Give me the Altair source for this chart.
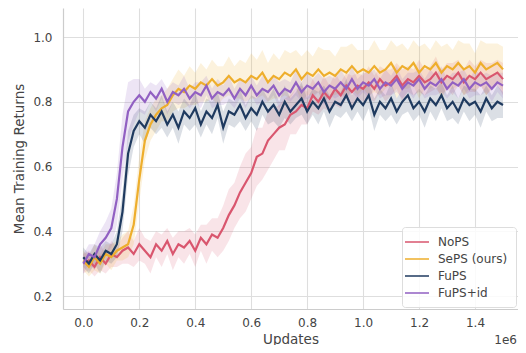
import altair as alt
import pandas as pd

SERIES = ["NoPS", "SePS (ours)", "FuPS", "FuPS+id"]
COLORS = ["#d9566e", "#eeae2c", "#1f3a5f", "#9160c2"]
STEP = 20000  # updates between logged points

NOPS = [0.30, 0.31, 0.29, 0.32, 0.30, 0.33, 0.32, 0.34, 0.35, 0.33,
        0.36, 0.34, 0.32, 0.36, 0.34, 0.37, 0.33, 0.36, 0.35, 0.37,
        0.34, 0.38, 0.36, 0.39, 0.38, 0.41, 0.45, 0.48, 0.52, 0.55,
        0.58, 0.63, 0.64, 0.68, 0.70, 0.72, 0.73, 0.76, 0.77, 0.79,
        0.78, 0.82, 0.80, 0.83, 0.81, 0.84, 0.82, 0.85, 0.83, 0.85,
        0.84, 0.86, 0.84, 0.87, 0.85, 0.86, 0.88, 0.85, 0.87, 0.86,
        0.88, 0.86, 0.87, 0.89, 0.86, 0.88, 0.87, 0.89, 0.86, 0.88,
        0.87, 0.89, 0.87, 0.88, 0.89, 0.87]
SEPS = [0.31, 0.29, 0.32, 0.30, 0.33, 0.32, 0.34, 0.35, 0.36, 0.42,
        0.56, 0.68, 0.73, 0.76, 0.78, 0.79, 0.82, 0.84, 0.83, 0.85,
        0.84, 0.86, 0.85, 0.87, 0.85, 0.86, 0.88, 0.86, 0.87, 0.86,
        0.88, 0.87, 0.89, 0.86, 0.88, 0.87, 0.89, 0.88, 0.90, 0.87,
        0.89, 0.88, 0.90, 0.88, 0.89, 0.88, 0.90, 0.89, 0.91, 0.89,
        0.90, 0.89, 0.91, 0.89, 0.90, 0.92, 0.89, 0.91, 0.90, 0.92,
        0.89, 0.91, 0.90, 0.92, 0.89, 0.91, 0.90, 0.92, 0.90, 0.91,
        0.89, 0.92, 0.90, 0.91, 0.92, 0.90]
FUPS = [0.32, 0.30, 0.33, 0.31, 0.34, 0.33, 0.36, 0.46, 0.64, 0.71,
        0.74, 0.72, 0.76, 0.74, 0.77, 0.73, 0.76, 0.72, 0.77, 0.75,
        0.78, 0.73, 0.77, 0.75, 0.79, 0.72, 0.77, 0.76, 0.79, 0.75,
        0.78, 0.76, 0.80, 0.77, 0.79, 0.76, 0.80, 0.77, 0.79, 0.81,
        0.77, 0.80, 0.78, 0.81, 0.77, 0.80, 0.79, 0.82, 0.78, 0.81,
        0.79, 0.82, 0.76, 0.80, 0.78, 0.81, 0.77, 0.80, 0.82, 0.78,
        0.80, 0.77, 0.81, 0.79, 0.82, 0.78, 0.80, 0.77, 0.81, 0.79,
        0.80, 0.77, 0.81, 0.78, 0.80, 0.79]
FUPSID = [0.30, 0.33, 0.32, 0.36, 0.38, 0.41, 0.50, 0.66, 0.77, 0.80,
          0.82, 0.80, 0.83, 0.81, 0.84, 0.80, 0.83, 0.82, 0.84, 0.81,
          0.83, 0.82, 0.85, 0.81, 0.83, 0.82, 0.84, 0.81, 0.84, 0.82,
          0.85, 0.82, 0.84, 0.83, 0.85, 0.82, 0.84, 0.83, 0.86, 0.83,
          0.85, 0.84, 0.86, 0.83, 0.85, 0.84, 0.86, 0.84, 0.87, 0.84,
          0.86, 0.85, 0.87, 0.84, 0.86, 0.85, 0.87, 0.84, 0.86, 0.85,
          0.87, 0.84, 0.86, 0.85, 0.87, 0.84, 0.86, 0.85, 0.87, 0.84,
          0.86, 0.85, 0.86, 0.84, 0.86, 0.85]

# half-widths of the shaded bands
NOPS_HW = [0.03, 0.03, 0.03, 0.04, 0.03, 0.04, 0.03, 0.04, 0.05, 0.04,
           0.05, 0.04, 0.05, 0.04, 0.05, 0.04, 0.05, 0.04, 0.05, 0.04,
           0.05, 0.04, 0.06, 0.05, 0.06, 0.07, 0.08, 0.07, 0.08, 0.09,
           0.08, 0.09, 0.08, 0.09, 0.08, 0.07, 0.08, 0.06, 0.07, 0.06,
           0.05, 0.05, 0.04, 0.05, 0.04, 0.05, 0.04, 0.04, 0.05, 0.04,
           0.04, 0.05, 0.04, 0.04, 0.05, 0.04, 0.04, 0.05, 0.04, 0.04,
           0.05, 0.04, 0.04, 0.05, 0.04, 0.04, 0.05, 0.04, 0.04, 0.05,
           0.04, 0.04, 0.05, 0.04, 0.04, 0.05]
SEPS_HW = [0.03, 0.03, 0.04, 0.03, 0.03, 0.04, 0.03, 0.04, 0.04, 0.06,
           0.07, 0.06, 0.05, 0.05, 0.04, 0.05, 0.05, 0.06, 0.05, 0.06,
           0.05, 0.06, 0.05, 0.06, 0.06, 0.05, 0.06, 0.05, 0.06, 0.06,
           0.07, 0.06, 0.07, 0.06, 0.07, 0.06, 0.07, 0.07, 0.06, 0.07,
           0.07, 0.06, 0.07, 0.08, 0.07, 0.06, 0.07, 0.08, 0.07, 0.07,
           0.06, 0.07, 0.08, 0.07, 0.06, 0.07, 0.08, 0.07, 0.06, 0.07,
           0.08, 0.07, 0.06, 0.07, 0.08, 0.07, 0.06, 0.07, 0.08, 0.07,
           0.06, 0.07, 0.08, 0.07, 0.06, 0.07]
FUPS_HW = [0.03, 0.03, 0.03, 0.04, 0.03, 0.03, 0.04, 0.06, 0.07, 0.05,
           0.04, 0.05, 0.04, 0.04, 0.05, 0.04, 0.04, 0.05, 0.04, 0.04,
           0.05, 0.04, 0.04, 0.05, 0.04, 0.05, 0.04, 0.04, 0.05, 0.04,
           0.04, 0.05, 0.04, 0.04, 0.05, 0.04, 0.05, 0.04, 0.04, 0.05,
           0.04, 0.04, 0.05, 0.04, 0.05, 0.04, 0.04, 0.05, 0.04, 0.04,
           0.05, 0.04, 0.05, 0.04, 0.04, 0.05, 0.04, 0.04, 0.05, 0.04,
           0.04, 0.05, 0.04, 0.05, 0.04, 0.04, 0.05, 0.04, 0.04, 0.05,
           0.04, 0.05, 0.04, 0.04, 0.05, 0.04]
FUPSID_HW = [0.03, 0.03, 0.04, 0.04, 0.05, 0.06, 0.08, 0.10, 0.09, 0.07,
             0.05, 0.04, 0.03, 0.04, 0.03, 0.04, 0.03, 0.03, 0.04, 0.03,
             0.03, 0.04, 0.03, 0.03, 0.04, 0.03, 0.04, 0.03, 0.03, 0.04,
             0.03, 0.03, 0.04, 0.03, 0.03, 0.04, 0.03, 0.03, 0.04, 0.03,
             0.04, 0.03, 0.03, 0.04, 0.03, 0.03, 0.04, 0.03, 0.04, 0.03,
             0.03, 0.04, 0.03, 0.03, 0.04, 0.03, 0.04, 0.03, 0.03, 0.04,
             0.03, 0.03, 0.04, 0.03, 0.04, 0.03, 0.03, 0.04, 0.03, 0.03,
             0.04, 0.03, 0.03, 0.04, 0.03, 0.04]

X_TICKS = [0, 200000, 400000, 600000, 800000, 1000000, 1200000, 1400000]
Y_TICKS = [0.2, 0.4, 0.6, 0.8, 1.0]

MEANS = [NOPS, SEPS, FUPS, FUPSID]
HWS = [NOPS_HW, SEPS_HW, FUPS_HW, FUPSID_HW]

rows = []
for name, mean, hw in zip(SERIES, MEANS, HWS):
    for i, (m, h) in enumerate(zip(mean, hw)):
        rows.append({"series": name, "x": i * STEP, "y": m, "lo": m - h, "hi": m + h})
df = pd.DataFrame(rows)

FONT = "DejaVu Sans"
TXT = "#444444"

xscale = alt.Scale(domain=[-72600, 1553600], nice=False, zero=False)
yscale = alt.Scale(domain=[0.16, 1.0896], nice=False, zero=False)
xaxis = alt.Axis(values=X_TICKS, labelExpr="format(datum.value / 1e6, '.1f')",
                 title="Updates")
yaxis = alt.Axis(values=Y_TICKS, format=".1f", title="Mean Training Returns")

color = alt.Color("series:N", scale=alt.Scale(domain=SERIES, range=COLORS),
                  legend=alt.Legend(title=None))

base = alt.Chart(df)
areas = []
lines = []
for name, col in zip(SERIES, COLORS):
    sub = base.transform_filter(alt.datum.series == name)
    areas.append(
        sub.mark_area(color=col, opacity=0.16).encode(
            x=alt.X("x:Q", scale=xscale, axis=xaxis),
            y=alt.Y("lo:Q", scale=yscale, axis=yaxis),
            y2="hi:Q",
        )
    )
    lines.append(
        sub.mark_line(strokeWidth=2.2).encode(
            x=alt.X("x:Q", scale=xscale, axis=xaxis),
            y=alt.Y("y:Q", scale=yscale, axis=yaxis),
            color=color,
        )
    )

chart = alt.layer(
    *areas, *lines,
    title=alt.TitleParams("1e6", orient="bottom", anchor="end", fontSize=12,
                          font=FONT, color=TXT, fontWeight="normal", dy=-15, dx=-1),
).properties(
    width=455, height=301,
    padding={"left": 55, "top": 0, "right": 0, "bottom": 36},
    autosize=alt.AutoSizeParams(type="none"),
).configure_view(stroke=None).configure_axis(
    gridColor="#dedede", gridWidth=1.1, domainColor="#cccccc", domainWidth=1.2,
    ticks=False, labelFont=FONT, labelFontSize=12, labelColor=TXT,
    titleFont=FONT, titleFontSize=13.5, titleFontWeight="normal", titleColor=TXT,
).configure_axisX(labelPadding=8, titlePadding=4).configure_axisY(
    labelPadding=11, titlePadding=6
).configure_legend(
    orient="none", legendX=339, legendY=219,
    symbolType="M-2,0H2", symbolSize=144, symbolStrokeWidth=2, symbolOpacity=0.75,
    labelFont=FONT, labelFontSize=12, labelColor=TXT, labelOffset=14,
    padding=8, rowPadding=4, strokeColor="#dddddd", fillColor="rgba(255,255,255,0.85)",
    cornerRadius=3,
)

chart.save("out.html", embed_options={"renderer": "svg", "actions": False})
